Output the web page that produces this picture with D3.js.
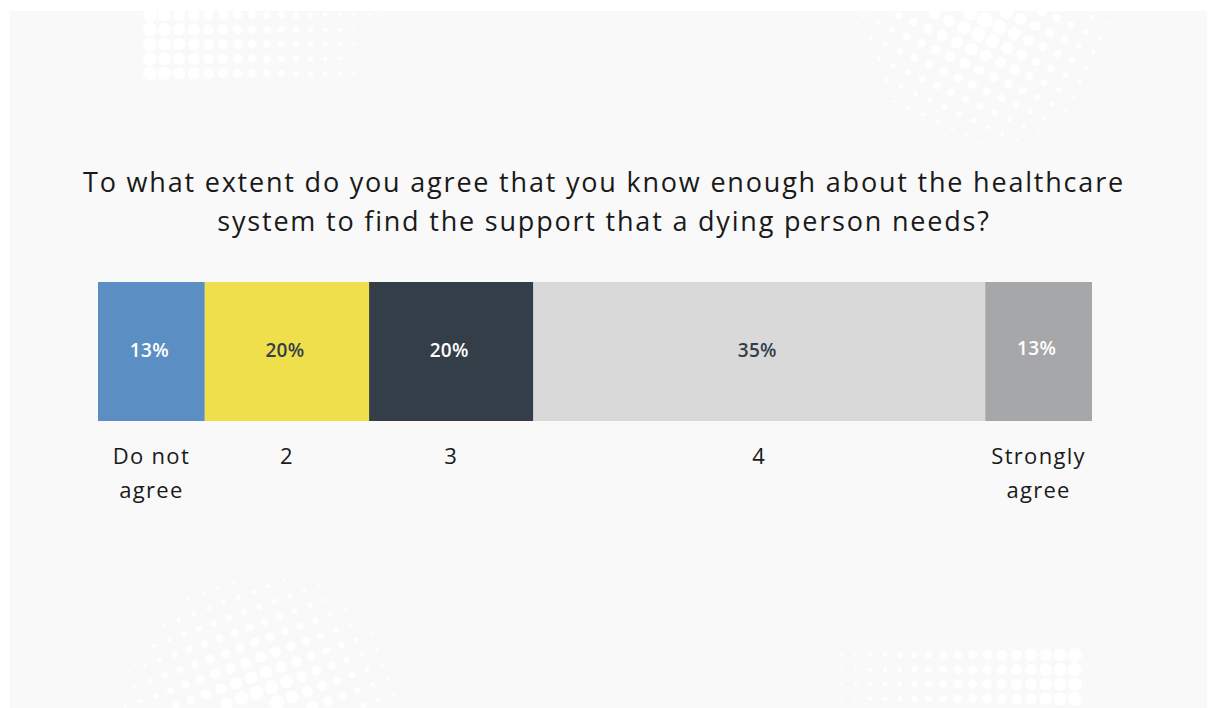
<!DOCTYPE html>
<html>
<head>
<meta charset="utf-8">
<script src="https://cdn.jsdelivr.net/npm/d3@7"></script>
<style>
  body { margin: 0; background: #ffffff; }
  svg { display: block; }
</style>
</head>
<body>
<script>
// survey answers, left to right
var categories = ["Do not agree", "2", "3", "4", "Strongly agree"];
// segment widths (the "4" block is drawn much wider than its label says)
var values = [13, 20, 20, 55, 13];
var valueLabels = ["13%", "20%", "20%", "35%", "13%"];
var colors = ["#5b8fc4", "#eedf4b", "#333e48", "#d9d9d9", "#a6a7a9"];
var labelColors = ["#ffffff", "#333e48", "#ffffff", "#333e48", "#ffffff"];

var title = ["To what extent do you agree that you know enough about the healthcare",
             "system to find the support that a dying person needs?"];

var W = 1208, H = 708;
var font = "'Open Sans', 'Noto Sans', sans-serif";

var svg = d3.select("body").append("svg").attr("width", W).attr("height", H);

// panel
svg.append("rect").attr("x", 10).attr("y", 11).attr("width", 1197).attr("height", 697).attr("fill", "#f9f9f9");

// halftone decoration
var deco = svg.append("g").attr("fill", "#ffffff");
function gridDots(x0, y0, cols, rows, step, rFn) {
    for (var c = 0; c < cols; c++) {
        for (var r = 0; r < rows; r++) {
            var rad = rFn(c, r);
            if (rad > 0.3) deco.append("circle").attr("cx", x0 + c * step).attr("cy", y0 + r * step).attr("r", rad);
        }
    }
}
function radialDots(cx, cy, ang, cols, rows, step, maxR, spread) {
    var a = ang * Math.PI / 180;
    for (var c = -cols; c <= cols; c++) {
        for (var r = -rows; r <= rows; r++) {
            var u = c * step, v = r * step;
            var x = cx + u * Math.cos(a) - v * Math.sin(a);
            var y = cy + u * Math.sin(a) + v * Math.cos(a);
            var d = Math.sqrt(u * u + v * v);
            var rad = maxR * (1 - d / spread);
            if (rad > 0.5 && y > 11 && y < H) deco.append("circle").attr("cx", x).attr("cy", y).attr("r", rad);
        }
    }
}
gridDots(150, 15, 17, 5, 14.6, function (c) { return 7 - c * 0.4; });
gridDots(812, 655, 19, 4, 14.6, function (c) { return 0.5 + c * 0.36; });
radialDots(985, 20, 25, 10, 10, 16, 8, 150);
radialDots(262, 708, -20, 10, 10, 16, 8, 160);

// title
svg.append("text")
    .attr("x", 604).attr("y", 192)
    .attr("text-anchor", "middle")
    .style("font-family", font).style("font-size", "27px").style("letter-spacing", "1.8px").attr("fill", "#1a1a1a")
    .selectAll("tspan").data(title).enter().append("tspan")
    .attr("x", 604).attr("dy", function (d, i) { return i ? 39 : 0; })
    .text(function (d) { return d; });

// stacked bar
var starts = [];
values.reduce(function (acc, v) { starts.push(acc); return acc + v; }, 0);
var x = d3.scaleLinear().domain([0, d3.sum(values)]).range([98, 1092]);
var barTop = 282, barH = 139;

var seg = svg.selectAll("g.seg").data(values).enter().append("g").attr("class", "seg");

seg.append("rect")
    .attr("x", function (d, i) { return x(starts[i]); })
    .attr("y", barTop)
    .attr("width", function (d, i) { return x(starts[i] + d) - x(starts[i]); })
    .attr("height", barH)
    .attr("fill", function (d, i) { return colors[i]; });

seg.append("text")
    .attr("x", function (d, i) { return x(starts[i] + d / 2) - 2; })
    .attr("y", function (d, i) { return i === 4 ? 355 : 357; })
    .attr("text-anchor", "middle")
    .style("font-family", font).style("font-size", "19px").style("font-weight", "600").style("letter-spacing", "0.3px")
    .attr("fill", function (d, i) { return labelColors[i]; })
    .text(function (d, i) { return valueLabels[i]; });

// category labels under the bar
seg.append("text")
    .attr("x", function (d, i) { return x(starts[i] + d / 2); })
    .attr("y", 464)
    .attr("text-anchor", "middle")
    .style("font-family", font).style("font-size", "22px").style("letter-spacing", "1.3px").attr("fill", "#1a1a1a")
    .selectAll("tspan")
    .data(function (d, i) {
        var c = categories[i];
        var parts = c.indexOf(" ") > 0 && c.length > 3 ? [c.slice(0, c.lastIndexOf(" ")), c.slice(c.lastIndexOf(" ") + 1)] : [c];
        var cx = x(starts[i] + d / 2);
        return parts.map(function (p) { return {t: p, cx: cx}; });
    })
    .enter().append("tspan")
    .attr("x", function (d) { return d.cx; })
    .attr("dy", function (d, i) { return i ? 34 : 0; })
    .text(function (d) { return d.t; });
</script>
</body>
</html>
